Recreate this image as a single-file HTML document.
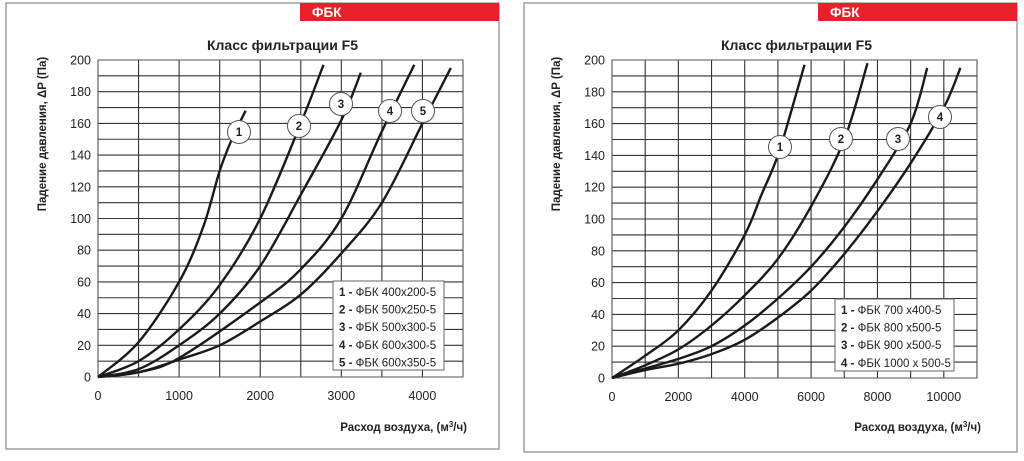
<!DOCTYPE html>
<html><head><meta charset="utf-8"><style>
body{margin:0;background:#fff;width:1024px;height:456px;overflow:hidden}
svg text{font-family:"Liberation Sans",sans-serif;fill:#222}
</style></head><body>
<svg id="s" width="1024" height="456" xmlns="http://www.w3.org/2000/svg"></svg>
<script>
const s=document.getElementById('s');let h='';
function cr(pts){let d='M'+pts[0][0]+','+pts[0][1];for(let i=0;i<pts.length-1;i++){const p0=pts[i-1]||pts[i],p1=pts[i],p2=pts[i+1],p3=pts[i+2]||p2;const c1=[p1[0]+(p2[0]-p0[0])/6,p1[1]+(p2[1]-p0[1])/6],c2=[p2[0]-(p3[0]-p1[0])/6,p2[1]-(p3[1]-p1[1])/6];d+=` C${c1[0].toFixed(1)},${c1[1].toFixed(1)} ${c2[0].toFixed(1)},${c2[1].toFixed(1)} ${p2[0].toFixed(1)},${p2[1].toFixed(1)}`;}return d;}
function panel(o){
 const {bx,bw,bh,red,x0,x1,xmax,xstep,xlab,y0,y1,curves,circles,leg,legItems}=o;
 h+=`<rect x="${bx}" y="3" width="${bw}" height="${bh}" fill="none" stroke="#888" stroke-width="1.2"/>`;
 h+=`<rect x="${red}" y="3" width="${bx+bw-red}" height="18" fill="#e8202a"/>`;
 h+=`<text x="${red+12}" y="17" font-size="13.5" font-weight="bold" style="fill:#fff">ФБК</text>`;
 const X=v=>x0+(x1-x0)*v/xmax,Y=v=>y0+(y1-y0)*v/200;
 h+=`<text x="${(x0+x1)/2+2}" y="50" font-size="14" font-weight="bold" text-anchor="middle">Класс фильтрации F5</text>`;
 for(let v=0;v<=200;v+=10)h+=`<line x1="${x0}" x2="${x1}" y1="${Y(v)}" y2="${Y(v)}" stroke="#333" stroke-width="1.1"/>`;
 for(let v=0;v<=xmax;v+=xstep)h+=`<line y1="${y0}" y2="${y1}" x1="${X(v)}" x2="${X(v)}" stroke="#333" stroke-width="1.1"/>`;
 h+=`<rect x="${x0}" y="${y1}" width="${x1-x0}" height="${y0-y1}" fill="none" stroke="#555" stroke-width="1"/>`;
 for(let v=0;v<=200;v+=20)h+=`<text x="${x0-7}" y="${Y(v)+4.5}" font-size="12.5" text-anchor="end">${v}</text>`;
 for(const v of xlab)h+=`<text x="${X(v)}" y="${y0+23}" font-size="12.5" text-anchor="middle">${v}</text>`;
 h+=`<text x="${x1+4}" y="431" font-size="11.5" font-weight="bold" text-anchor="end">Расход воздуха, (м<tspan dy="-4" font-size="8">3</tspan><tspan dy="4">/ч)</tspan></text>`;
 h+=`<text transform="translate(${x0-52},${y1+74}) rotate(-90)" font-size="11.5" font-weight="bold" text-anchor="middle">Падение давления, ΔP (Па)</text>`;
 for(const c of curves)h+=`<path d="${cr(c.map(p=>[X(p[0]),Y(p[1])]))}" fill="none" stroke="#1a1a1a" stroke-width="2.4"/>`;
 circles.forEach((c,i)=>{h+=`<circle cx="${c[0]}" cy="${c[1]}" r="11.5" fill="#fff" stroke="#555" stroke-width="1"/><text x="${c[0]}" y="${c[1]+4}" font-size="11.5" font-weight="bold" text-anchor="middle">${i+1}</text>`});
 h+=`<rect x="${leg[0]}" y="${leg[1]}" width="${leg[2]}" height="${leg[3]}" fill="#fff" stroke="#666"/>`;
 legItems.forEach((t,i)=>{h+=`<text x="${leg[0]+6}" y="${leg[1]+15+i*17.6}" font-size="11.5"><tspan font-weight="bold">${i+1} - </tspan>${t}</text>`});
}
panel({bx:6,bw:493,bh:446,red:300,x0:98,x1:463,xmax:4500,xstep:500,xlab:[0,1000,2000,3000,4000],y0:377,y1:60,
curves:[
[[0,0],[500,22],[1000,60],[1300,95],[1500,130],[1650,150],[1820,168]],
[[0,0],[500,10],[1000,30],[1500,58],[2000,100],[2500,160],[2780,197]],
[[0,0],[500,5],[1000,20],[1500,40],[2000,70],[2500,115],[3000,162],[3240,192]],
[[0,0],[500,3],[1000,12],[2000,47],[2500,68],[3000,100],[3500,155],[3900,197]],
[[0,0],[500,3],[1000,11],[1500,20],[2000,35],[2500,52],[3000,78],[3500,110],[4000,160],[4350,195]]],
circles:[[239,132],[299,126],[341,104],[390,111],[423,111]],
leg:[333,281,111,89],legItems:['ФБК 400x200-5','ФБК 500x250-5','ФБК 500x300-5','ФБК 600x300-5','ФБК 600x350-5']});
panel({bx:524,bw:493,bh:449,red:818,x0:612,x1:977,xmax:11000,xstep:1000,xlab:[0,2000,4000,6000,8000,10000],y0:378,y1:60,
curves:[
[[0,0],[1000,14],[2000,30],[3000,55],[4000,90],[4500,115],[5000,140],[5500,175],[5800,197]],
[[0,0],[1000,8],[2000,18],[3000,33],[4000,52],[5000,75],[6000,108],[7000,150],[7700,198]],
[[0,0],[1000,6],[2000,12],[3000,20],[4000,33],[5000,50],[6000,70],[7000,95],[8000,125],[9000,160],[9500,195]],
[[0,0],[1000,5],[2000,9],[3000,15],[4000,24],[5000,38],[6000,55],[7000,78],[8000,105],[9000,135],[10000,170],[10500,195]]],
circles:[[780,147],[841,139],[898,139],[940,117]],
leg:[835,299,119,72],legItems:['ФБК 700 x400-5','ФБК 800 x500-5','ФБК 900 x500-5','ФБК 1000 x 500-5']});
s.innerHTML=h;
</script>
</body></html>
